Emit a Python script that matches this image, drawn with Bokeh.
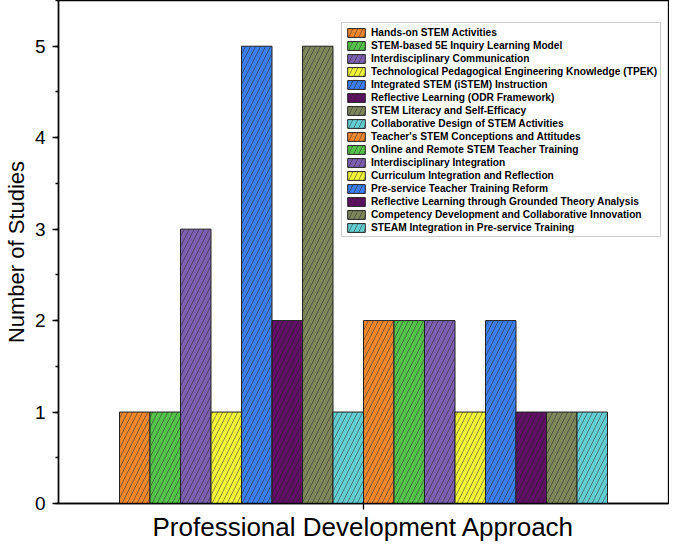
from bokeh.plotting import figure
from bokeh.models import Range1d, SingleIntervalTicker, FixedTicker, ColumnDataSource, CustomJSTickFormatter
from bokeh.transform import dodge
from bokeh.embed import file_html
from bokeh.resources import INLINE

category = "Professional Development Approach"
approaches = [
    "Hands-on STEM Activities",
    "STEM-based 5E Inquiry Learning Model",
    "Interdisciplinary Communication",
    "Technological Pedagogical Engineering Knowledge (TPEK)",
    "Integrated STEM (iSTEM) Instruction",
    "Reflective Learning (ODR Framework)",
    "STEM Literacy and Self-Efficacy",
    "Collaborative Design of STEM Activities",
    "Teacher's STEM Conceptions and Attitudes",
    "Online and Remote STEM Teacher Training",
    "Interdisciplinary Integration",
    "Curriculum Integration and Reflection",
    "Pre-service Teacher Training Reform",
    "Reflective Learning through Grounded Theory Analysis",
    "Competency Development and Collaborative Innovation",
    "STEAM Integration in Pre-service Training",
]
studies = [1, 1, 3, 1, 5, 2, 5, 1, 2, 2, 2, 1, 2, 1, 1, 1]
palette = ["#F1872D", "#55C34B", "#7D5FAF", "#F2F53A", "#3C7DF0", "#5F0F64", "#7D875A", "#64CDD2"]

FONT = "Liberation Sans"
group_center = 0.5

p = figure(
    width=669, height=544,
    x_range=Range1d(0, 1),
    y_range=Range1d(0, 5.5),
    output_backend="svg", toolbar_location=None,
    min_border_left=53, min_border_right=1, min_border_top=0, min_border_bottom=40,
)

n = len(approaches)
bar_w = 0.8 / n
for i, (name, val) in enumerate(zip(approaches, studies)):
    src = ColumnDataSource(dict(x=[group_center], top=[val]))
    off = (i - (n - 1) / 2) * bar_w
    p.vbar(x=dodge("x", off), top="top", width=bar_w, source=src,
           fill_color=palette[i % len(palette)], line_color="#222222", line_width=1,
           hatch_pattern="/", hatch_color="#222222", hatch_alpha=0.8,
           hatch_weight=0.6, hatch_scale=10, legend_label=name)

p.xgrid.visible = False
p.ygrid.visible = False
p.outline_line_color = "black"
p.outline_line_width = 1.3
p.background_fill_color = "white"
p.border_fill_color = "white"

yax = p.yaxis[0]
yax.ticker = SingleIntervalTicker(interval=1, num_minor_ticks=2)
yax.axis_label = "Number of Studies"
yax.axis_label_text_font = FONT
yax.axis_label_text_font_style = "normal"
yax.axis_label_text_font_size = "22px"
yax.axis_label_text_color = "black"
yax.axis_label_standoff = 3
yax.major_label_text_font = FONT
yax.major_label_text_font_size = "19px"
yax.major_label_text_color = "black"
yax.major_label_standoff = 7
yax.major_tick_in = 0
yax.major_tick_out = 6
yax.minor_tick_in = 0
yax.minor_tick_out = 3
yax.axis_line_width = 1.5
yax.major_tick_line_width = 1.3
yax.minor_tick_line_width = 1.3

xax = p.xaxis[0]
xax.ticker = FixedTicker(ticks=[group_center], minor_ticks=[])
xax.formatter = CustomJSTickFormatter(code="return ''")
xax.axis_label = category
xax.axis_label_text_font = FONT
xax.axis_label_text_font_style = "normal"
xax.axis_label_text_font_size = "26px"
xax.axis_label_text_color = "black"
xax.axis_label_standoff = 2
xax.major_label_text_font_size = "1px"
xax.major_label_standoff = 0
xax.major_tick_in = 0
xax.major_tick_out = 6
xax.minor_tick_out = 0
xax.axis_line_width = 1.5
xax.major_tick_line_width = 1.3

lg = p.legend[0]
lg.location = (283, 266)
lg.label_text_font = FONT
lg.label_text_font_style = "bold"
lg.label_text_font_size = "10.2px"
lg.label_text_color = "black"
lg.label_height = 12
lg.glyph_height = 11
lg.glyph_width = 22
lg.label_standoff = 4
lg.spacing = 1
lg.padding = 3
lg.margin = 0
lg.border_line_color = "#9a9a9a"
lg.border_line_width = 1
lg.background_fill_alpha = 1

open("out.html", "w").write(file_html(p, INLINE))
